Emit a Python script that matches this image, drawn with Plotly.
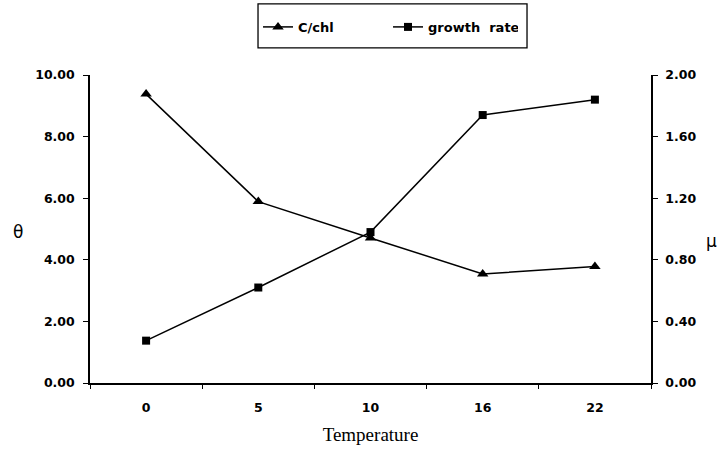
import plotly.graph_objects as go

temperature = ["0", "5", "10", "16", "22"]
c_chl = [9.38, 5.89, 4.71, 3.54, 3.78]
growth_rate = [0.275, 0.62, 0.98, 1.74, 1.84]
left_ticks = [0, 2, 4, 6, 8, 10]
right_ticks = [0, 0.4, 0.8, 1.2, 1.6, 2.0]

FONT = "DejaVu Sans"

fig = go.Figure()
fig.add_trace(go.Scatter(
    x=temperature, y=c_chl, name="C/chl", mode="lines+markers",
    line=dict(color="black", width=1.5),
    marker=dict(symbol="triangle-up", size=10, color="black"),
    xaxis="x", yaxis="y",
))
fig.add_trace(go.Scatter(
    x=temperature, y=growth_rate, name="growth  rate", mode="lines+markers",
    line=dict(color="black", width=1.5),
    marker=dict(symbol="square", size=8, color="black"),
    xaxis="x", yaxis="y2",
))

tickfont = dict(family=FONT, size=12.5, color="black", weight="bold")

fig.update_layout(
    width=726, height=449,
    margin=dict(l=90, r=75, t=75, b=66, autoexpand=False),
    paper_bgcolor="white", plot_bgcolor="white",
    showlegend=True,
    legend=dict(
        orientation="h", x=0.2995, y=1.156, xanchor="left", yanchor="middle",
        borderwidth=0, bgcolor="rgba(0,0,0,0)",
        font=dict(family=FONT, size=13, color="black", weight="bold"),
        entrywidth=85, itemwidth=30,
    ),
    shapes=[
        dict(type="rect", xref="paper", yref="paper", x0=0.2995, x1=0.779, y0=1.088, y1=1.231,
             line=dict(color="black", width=1.3), fillcolor="rgba(0,0,0,0)", layer="below"),
    ],
    xaxis=dict(
        type="category", range=[-0.5, 4.5], tickson="boundaries",
        ticks="outside", ticklen=4, tickwidth=1.2, tickcolor="black",
        showline=True, linecolor="black", linewidth=1.5,
        showgrid=False, zeroline=False, tickfont=tickfont, ticklabelstandoff=12,
        title=dict(text="Temperature", font=dict(family="Liberation Serif", size=19, color="black"), standoff=14),
    ),
    yaxis=dict(
        range=[0, 10], tickvals=left_ticks, tickformat=".2f",
        ticks="outside", ticklen=5, tickwidth=1.2, tickcolor="black",
        showline=True, linecolor="black", linewidth=1.5,
        showgrid=False, zeroline=False, tickfont=tickfont, ticklabelstandoff=6,
    ),
    yaxis2=dict(
        range=[0, 2], tickvals=right_ticks, tickformat=".2f",
        overlaying="y", side="right", anchor="x",
        ticks="outside", ticklen=5, tickwidth=1.2, tickcolor="black",
        showline=True, linecolor="black", linewidth=1.5,
        showgrid=False, zeroline=False, tickfont=tickfont, ticklabelstandoff=5,
    ),
    yaxis3=dict(
        range=[0, 10], tickvals=left_ticks, overlaying="y", side="left", anchor="x",
        ticks="inside", ticklen=4, tickwidth=1.2, tickcolor="black",
        showticklabels=False, showline=False, showgrid=False, zeroline=False,
    ),
    yaxis4=dict(
        range=[0, 2], tickvals=right_ticks, overlaying="y", side="right", anchor="x",
        ticks="inside", ticklen=4, tickwidth=1.2, tickcolor="black",
        showticklabels=False, showline=False, showgrid=False, zeroline=False,
    ),
    xaxis2=dict(
        range=[-0.5, 4.5], tickvals=[-0.5, 0.5, 1.5, 2.5, 3.5, 4.5], overlaying="x", side="bottom", anchor="y",
        ticks="inside", ticklen=4, tickwidth=1.2, tickcolor="black",
        showticklabels=False, showline=False, showgrid=False, zeroline=False,
    ),
    annotations=[
        dict(text="θ", xref="paper", yref="paper", x=0, y=0.49, xshift=-79,
             showarrow=False, font=dict(family=FONT, size=17, color="black")),
        dict(text="μ", xref="paper", yref="paper", x=1, y=0.462, xshift=68,
             showarrow=False, font=dict(family=FONT, size=17, color="black")),
    ],
)

fig.write_html("out.html", post_script="document.body.style.margin='0';",
               config={"displayModeBar": False})
